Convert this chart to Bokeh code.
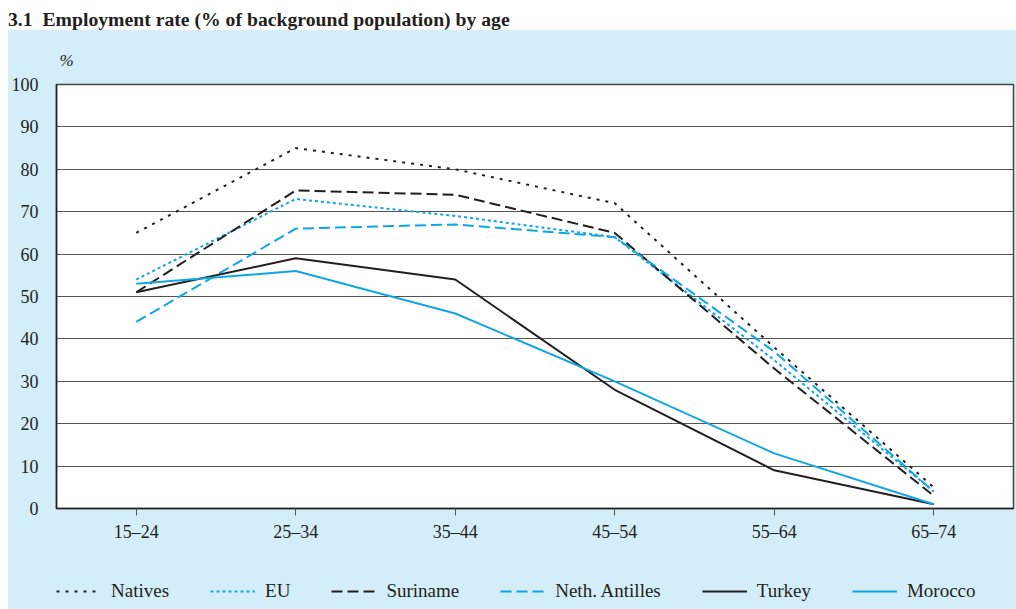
from bokeh.plotting import figure
from bokeh.models import Legend, LegendItem, FixedTicker, ColumnDataSource, Div
from bokeh.layouts import column
from bokeh.embed import file_html
from bokeh.resources import INLINE

ages = ["15–24", "25–34", "35–44", "45–54", "55–64", "65–74"]
natives = [65, 85, 80, 72, 38, 5]
eu = [54, 73, 69, 64, 35, 4]
suriname = [51, 75, 74, 65, 33, 3]
antilles = [44, 66, 67, 64, 37, 4]
turkey = [51, 59, 54, 28, 9, 1]
morocco = [53, 56, 46, 30, 13, 1]
y_ticks = [0, 10, 20, 30, 40, 50, 60, 70, 80, 90, 100]

BG = "#d3edf9"
BLUE = "#10a6e4"
BLACK = "#231f20"
FONT = "Liberation Serif"

header = Div(text="3.1&nbsp;&nbsp;Employment rate (% of background population) by age",
             width=1008, height=22, margin=0,
             styles={"font-family": FONT, "font-weight": "bold", "font-size": "19.7px",
                     "color": BLACK, "line-height": "22px", "white-space": "nowrap",
                     "background-color": "white"})

p = figure(width=1008, height=535, x_range=ages, y_range=(0, 100),
           output_backend="svg", toolbar_location=None,
           min_border_left=47, min_border_right=3, min_border_top=54, min_border_bottom=57)
p.border_fill_color = BG
p.background_fill_color = "white"
p.outline_line_color = "#444444"
p.outline_line_width = 1.5

p.title.text = "%"
p.title.align = "left"
p.title.text_font = FONT
p.title.text_font_style = "italic"
p.title.text_font_size = "17px"
p.title.text_color = BLACK
p.title.offset = 3
p.title.standoff = 30

p.xgrid.visible = False
p.ygrid.ticker = FixedTicker(ticks=y_ticks)
p.ygrid.grid_line_color = "#555555"
p.ygrid.grid_line_width = 1

p.yaxis.ticker = FixedTicker(ticks=y_ticks)
p.yaxis.major_tick_line_color = None
p.yaxis.minor_tick_line_color = None
p.yaxis.axis_line_color = BLACK
p.yaxis.axis_line_width = 1.5
p.yaxis.major_label_standoff = 12
p.xaxis.axis_line_color = BLACK
p.xaxis.axis_line_width = 1.5
p.xaxis.major_tick_line_color = "#555555"
p.xaxis.major_tick_out = 7
p.xaxis.major_tick_in = 0
p.xaxis.major_label_standoff = 6
for ax in (p.xaxis, p.yaxis):
    ax.major_label_text_font = FONT
    ax.major_label_text_font_size = "18px"
    ax.major_label_text_color = BLACK

series = [
    ("Natives", natives, BLACK, "3 6"),
    ("EU", eu, BLUE, "3 3"),
    ("Suriname", suriname, BLACK, "11 5"),
    ("Neth. Antilles", antilles, BLUE, "11 5"),
    ("Turkey", turkey, BLACK, "solid"),
    ("Morocco", morocco, BLUE, "solid"),
]

# footer strip that carries the legend (its own lines lie outside its visible y range)
footer = figure(width=1008, height=44, output_backend="svg", toolbar_location=None,
                x_range=ages, y_range=(1000, 1001), min_border=0)
footer.axis.visible = False
footer.grid.visible = False
footer.outline_line_color = None
footer.border_fill_color = BG
footer.background_fill_color = BG

items = []
for name, vals, col, dash in series:
    src = ColumnDataSource(dict(x=ages, y=vals))
    p.line("x", "y", source=src, line_color=col, line_width=2, line_dash=dash)
    proxy = footer.line("x", "y", source=src, line_color=col, line_width=2, line_dash=dash)
    items.append(LegendItem(label=name, renderers=[proxy]))

legend = Legend(items=items, orientation="horizontal", location=(0, 7),
                glyph_width=45, glyph_height=20, label_standoff=10, spacing=41,
                padding=0, margin=0, border_line_color=None, background_fill_alpha=0,
                label_text_font=FONT, label_text_font_size="19px", label_text_color=BLACK)
footer.add_layout(legend, "center")

layout = column(header, p, footer, spacing=0, margin=(8, 0, 0, 8),
                styles={"background-color": BG})
open("out.html", "w").write(file_html(layout, INLINE))
